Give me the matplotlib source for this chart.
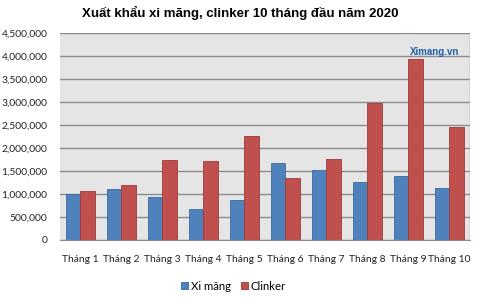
import numpy as np
import matplotlib.pyplot as plt
from matplotlib.ticker import FuncFormatter

months = ['Tháng 1', 'Tháng 2', 'Tháng 3', 'Tháng 4', 'Tháng 5',
          'Tháng 6', 'Tháng 7', 'Tháng 8', 'Tháng 9', 'Tháng 10']
xi_mang = [990000, 1110000, 930000, 680000, 870000,
           1670000, 1520000, 1250000, 1380000, 1120000]
clinker = [1070000, 1200000, 1740000, 1720000, 2250000,
           1340000, 1750000, 2970000, 3930000, 2450000]

blue = '#4F81BD'
red = '#C0504D'

fig = plt.figure(figsize=(4.8, 2.97), dpi=100)
ax = fig.add_axes([0.125, 0.192, 0.854, 0.697])
ax.set_facecolor('#E5E5E5')

x = np.arange(len(months))
w = 0.355
ax.bar(x - w / 2, xi_mang, w, color=blue, edgecolor='#3A6A9F', linewidth=0.6,
       label='Xi măng', zorder=3)
ax.bar(x + w / 2, clinker, w, color=red, edgecolor='#9E3B38', linewidth=0.6,
       label='Clinker', zorder=3)

ax.set_xlim(-0.5, len(months) - 0.5)
ax.set_ylim(0, 4500000)
ax.set_yticks(np.arange(0, 4500001, 500000))
ax.yaxis.set_major_formatter(FuncFormatter(lambda v, p: f'{int(v):,}'))
ax.grid(axis='y', color='#8C8C8C', linewidth=1.0, zorder=1)
ax.set_xticks(x)
ax.set_xticklabels(months)
ax.tick_params(axis='both', length=0, labelsize=7.4, colors='#222222')
ax.tick_params(axis='x', pad=11)
ax.tick_params(axis='y', pad=9)
for lab in ax.get_xticklabels() + ax.get_yticklabels():
    lab.set_family(['Lato', 'DejaVu Sans'])
for s in ['top', 'left', 'right']:
    ax.spines[s].set_visible(False)
ax.spines['bottom'].set_color('#8C8C8C')
ax.plot([1, 1], [0, 1], transform=ax.transAxes, color='#8C8C8C', lw=1.0, zorder=4)

fig.text(0.5, 0.955, 'Xuất khẩu xi măng, clinker 10 tháng đầu năm 2020',
         ha='center', va='center', fontsize=9.5, fontweight='bold',
         family='Liberation Sans')

# watermark logo text
ax.text(0.975, 0.91, 'Ximang.vn', transform=ax.transAxes, ha='right', va='center',
        fontsize=7, color='#1F5FA8', fontweight='bold', family='Liberation Sans',
        zorder=5)

fig.legend(loc='center', bbox_to_anchor=(0.487, 0.037), ncol=2, frameon=False,
           handlelength=0.6, handleheight=0.6, handletextpad=0.25,
           columnspacing=0.9, prop={'family': 'Lato', 'size': 8.2})

fig.savefig('out.png', dpi=100)
